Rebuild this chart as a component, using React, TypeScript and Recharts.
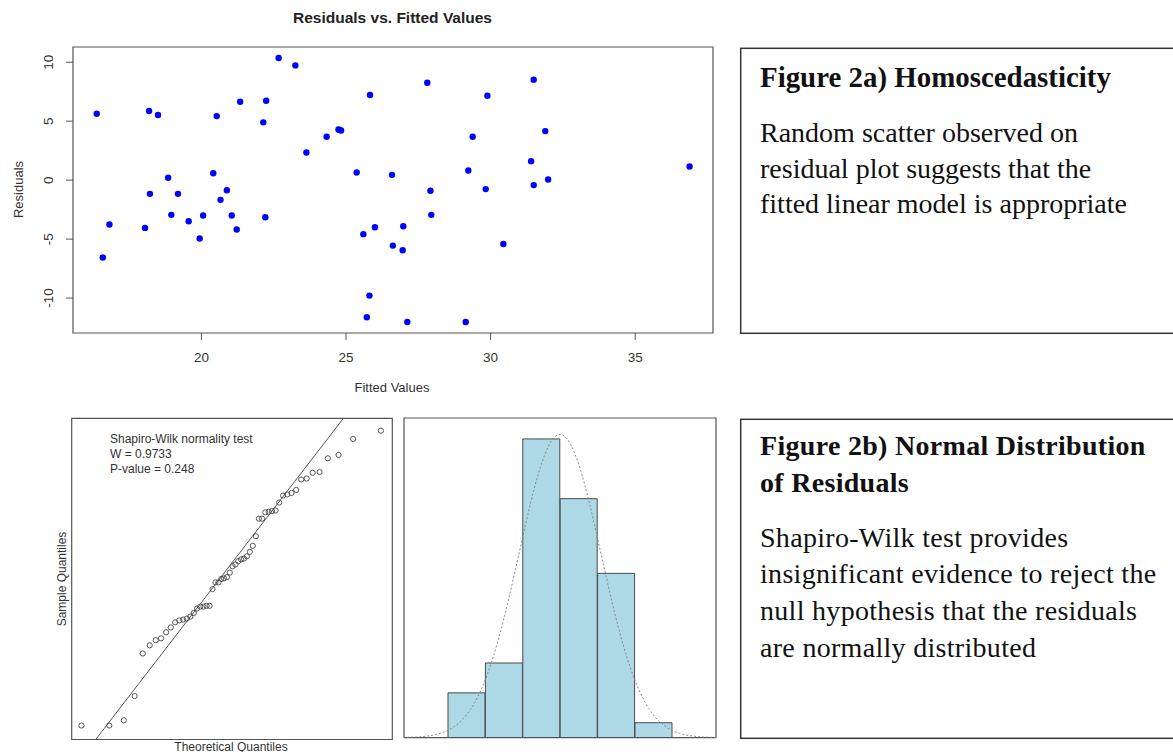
import React from 'react';
import {
  ScatterChart,
  Scatter,
  XAxis,
  YAxis,
  ReferenceArea,
  ReferenceLine,
  BarChart,
  Bar,
  LineChart,
  Line,
} from 'recharts';

// residuals vs fitted values
const fitted = [
  16.38, 16.59, 16.82, 18.05, 18.19, 18.22, 18.5, 18.85, 18.96, 19.19, 19.56, 19.94, 20.06, 20.41,
  20.53, 20.66, 20.88, 21.05, 21.22, 21.34, 22.14, 22.21, 22.24, 22.67, 23.25, 23.63, 24.33, 24.74,
  24.83, 25.37, 25.6, 25.72, 25.81, 25.83, 26.0, 26.59, 26.62, 26.98, 26.96, 27.12, 27.81, 27.92,
  27.95, 29.14, 29.23, 29.38, 29.83, 29.89, 30.44, 31.4, 31.49, 31.49, 31.89, 31.99, 36.88, 24.78,
];
const residuals = [
  5.63, -6.56, -3.76, -4.05, 5.86, -1.16, 5.52, 0.2, -2.94, -1.16, -3.48, -4.95, -3.0, 0.59,
  5.43, -1.67, -0.85, -3.0, -4.19, 6.65, 4.9, -3.14, 6.73, 10.36, 9.73, 2.35, 3.68, 4.3,
  4.21, 0.65, -4.58, -11.63, -9.79, 7.22, -3.99, 0.45, -5.55, -3.91, -5.94, -12.03, 8.26, -0.9,
  -2.94, -12.03, 0.82, 3.68, -0.76, 7.16, -5.41, 1.61, 8.52, -0.42, 4.16, 0.06, 1.16, 4.25,
];
const fittedTicks = [20, 25, 30, 35];
const residualTicks = [-10, -5, 0, 5, 10];

// normal Q-Q plot
const qqTheoretical = [
  -2.37, -1.93, -1.7, -1.53, -1.4, -1.29, -1.195, -1.11, -1.03, -0.956, -0.887, -0.822, -0.761, -0.703,
  -0.647, -0.592, -0.54, -0.489, -0.439, -0.39, -0.342, -0.295, -0.248, -0.202, -0.157, -0.112, -0.067, -0.022,
  0.022, 0.067, 0.112, 0.157, 0.202, 0.248, 0.295, 0.342, 0.39, 0.439, 0.489, 0.54, 0.592, 0.647,
  0.703, 0.761, 0.822, 0.887, 0.956, 1.03, 1.11, 1.195, 1.29, 1.4, 1.53, 1.7, 1.93, 2.37,
];
const qqSample = [
  -12.03, -12.03, -11.63, -9.79, -6.56, -5.94, -5.55, -5.41, -4.95, -4.58, -4.19, -4.05, -3.99, -3.91,
  -3.76, -3.48, -3.14, -3.0, -3.0, -2.94, -2.94, -1.67, -1.16, -1.16, -0.9, -0.85, -0.76, -0.42,
  0.06, 0.2, 0.45, 0.59, 0.65, 0.82, 1.16, 1.61, 2.35, 3.68, 3.68, 4.16, 4.21, 4.25, 4.3, 4.9,
  5.43, 5.52, 5.63, 5.86, 6.65, 6.73, 7.16, 7.22, 8.26, 8.52, 9.73, 10.36,
];
const qqLine = [
  { x: -2.145, y: -13.09 },
  { x: 1.777, y: 11.3 },
];

// histogram of residuals with normal curve
const histBins = ['-15', '-10', '-5', '0', '5', '10'];
const histCounts = [3, 5, 20, 16, 11, 1];
const curveX = [
  -21, -20, -19, -18, -17, -16, -15, -14, -13, -12, -11, -10, -9, -8, -7, -6, -5, -4, -3, -2, -1,
  0, 1, 2, 3, 4, 5, 6, 7, 8, 9, 10, 11, 12, 13, 14, 15, 16, 17, 18, 19, 20, 21,
];
const curveY = [
  0.01, 0.03, 0.05, 0.1, 0.17, 0.3, 0.49, 0.8, 1.24, 1.88, 2.75, 3.89, 5.32, 7.05, 9.03, 11.2, 13.4, 15.6, 17.5, 19.0, 19.97,
  20.3, 19.97, 19.0, 17.5, 15.6, 13.4, 11.2, 9.03, 7.05, 5.32, 3.89, 2.75, 1.88, 1.24, 0.8, 0.49, 0.3, 0.17, 0.1, 0.05, 0.03, 0.01,
];

const residualData = fitted.map((x, i) => ({ x, y: residuals[i] }));
const qqData = qqTheoretical.map((x, i) => ({ x, y: qqSample[i] }));
const histData = histBins.map((bin, i) => ({ bin, count: histCounts[i] }));
const curveData = curveX.map((x, i) => ({ x, y: curveY[i] }));

const SANS = 'Liberation Sans, Arial, sans-serif';
const SERIF = 'Liberation Serif, Times New Roman, serif';
const BOX = '#555';

const XTick = (props: any) => {
  const { x, y, payload } = props;
  return (
    <text x={x} y={y + 19.5} textAnchor="middle" fontFamily={SANS} fontSize={13.5} fill="#333">
      {String(payload.value)}
    </text>
  );
};

const YTick = (props: any) => {
  const { x, y, payload } = props;
  const bx = x - 10.5;
  return (
    <text
      x={bx}
      y={y}
      transform={`rotate(-90 ${bx} ${y})`}
      textAnchor="middle"
      fontFamily={SANS}
      fontSize={13.5}
      fill="#333"
    >
      {String(payload.value)}
    </text>
  );
};

const blueDot = (p: any) => <circle cx={p.cx} cy={p.cy} r={3.2} fill="#0000ff" />;
const openDot = (p: any) => (
  <circle cx={p.cx} cy={p.cy} r={2.6} fill="none" stroke="#444" strokeWidth={0.9} />
);

const pos = (left: number, top: number): React.CSSProperties => ({
  position: 'absolute',
  left,
  top,
});

export default function App() {
  return (
    <div
      style={{
        position: 'absolute',
        left: 0,
        top: 0,
        width: 1173,
        height: 752,
        overflow: 'hidden',
        background: '#fff',
      }}
    >
      {/* residuals vs fitted */}
      <div style={pos(0, 0)}>
        <ScatterChart width={730} height={400} margin={{ top: 47, right: 17, bottom: 37, left: 33 }}>
          <XAxis
            type="number"
            dataKey="x"
            domain={[15.56, 37.69]}
            ticks={fittedTicks}
            axisLine={false}
            tickSize={7}
            tickLine={{ stroke: BOX }}
            tick={XTick}
            height={30}
            allowDataOverflow
          />
          <YAxis
            type="number"
            dataKey="y"
            domain={[-12.96, 11.29]}
            ticks={residualTicks}
            axisLine={false}
            tickSize={7}
            tickLine={{ stroke: BOX }}
            tick={YTick}
            width={40}
            allowDataOverflow
          />
          <ReferenceArea x1={15.56} x2={37.69} y1={-12.96} y2={11.29} fill="none" stroke={BOX} strokeWidth={1.2} />
          <Scatter data={residualData} shape={blueDot} isAnimationActive={false} />
        </ScatterChart>
      </div>

      {/* normal Q-Q */}
      <div style={pos(40, 410)}>
        <ScatterChart width={360} height={342} margin={{ top: 8.3, right: 7.7, bottom: 12.5, left: 31.7 }}>
          <XAxis type="number" dataKey="x" domain={[-2.525, 2.551]} hide height={0} allowDataOverflow />
          <YAxis type="number" dataKey="y" domain={[-13.09, 11.3]} hide width={0} allowDataOverflow />
          <ReferenceArea x1={-2.525} x2={2.551} y1={-13.09} y2={11.3} fill="none" stroke={BOX} strokeWidth={1.2} />
          <ReferenceLine segment={qqLine} stroke="#555" strokeWidth={1} />
          <Scatter data={qqData} shape={openDot} isAnimationActive={false} />
        </ScatterChart>
      </div>

      {/* histogram bars */}
      <div style={pos(446.3, 416)}>
        <BarChart
          width={228.4}
          height={323.7}
          data={histData}
          margin={{ top: 2, right: 2, bottom: 2, left: 2 }}
          barCategoryGap={0}
          barGap={0}
        >
          <XAxis dataKey="bin" hide height={0} />
          <YAxis domain={[0, 21.4]} hide width={0} allowDataOverflow />
          <Bar dataKey="count" fill="#add8e6" stroke="#4a4a4a" strokeWidth={1} isAnimationActive={false} />
        </BarChart>
      </div>

      {/* normal curve + box */}
      <div style={pos(402, 416)}>
        <LineChart width={316} height={323.7} data={curveData} margin={{ top: 2, right: 2, bottom: 2, left: 2 }}>
          <XAxis type="number" dataKey="x" domain={[-20.9, 20.9]} hide height={0} allowDataOverflow />
          <YAxis domain={[0, 21.4]} hide width={0} allowDataOverflow />
          <ReferenceArea x1={-20.9} x2={20.9} y1={0} y2={21.4} fill="none" stroke={BOX} strokeWidth={1.2} />
          <Line
            type="monotone"
            dataKey="y"
            stroke="#8a8a8a"
            strokeWidth={1}
            strokeDasharray="2 2"
            dot={false}
            isAnimationActive={false}
          />
        </LineChart>
      </div>

      {/* titles, labels and text boxes */}
      <svg width={1173} height={752} style={{ position: 'absolute', left: 0, top: 0, pointerEvents: 'none' }}>
        <g fontFamily={SANS} fill="#222">
          <text x={392.5} y={23} textAnchor="middle" fontSize={15.5} fontWeight="bold">
            Residuals vs. Fitted Values
          </text>
          <text x={392} y={392} textAnchor="middle" fontSize={13} fill="#333">
            Fitted Values
          </text>
          <text x={23} y={189.5} textAnchor="middle" fontSize={13} fill="#333" transform="rotate(-90 23 189.5)">
            Residuals
          </text>
          <text x={110} y={443} fontSize={12} fill="#333">Shapiro-Wilk normality test</text>
          <text x={110} y={458} fontSize={12} fill="#333">W = 0.9733</text>
          <text x={110} y={473} fontSize={12} fill="#333">P-value = 0.248</text>
          <text x={66} y={579} textAnchor="middle" fontSize={12} fill="#333" transform="rotate(-90 66 579)">
            Sample Quantiles
          </text>
          <text x={231} y={750.5} textAnchor="middle" fontSize={12} fill="#333">
            Theoretical Quantiles
          </text>
        </g>

        <rect x={740.7} y={48.3} width={500} height={285} fill="none" stroke="#333" strokeWidth={1.5} />
        <g fontFamily={SERIF} fontSize={28} fill="#111">
          <text x={760} y={86.7} fontWeight="bold" fontSize={28.9}>Figure 2a) Homoscedasticity</text>
          <text x={760} y={141.7}>Random scatter observed on</text>
          <text x={760} y={177.5}>residual plot suggests that the</text>
          <text x={760} y={213.3}>fitted linear model is appropriate</text>
        </g>

        <rect x={740.7} y={419.3} width={500} height={319} fill="none" stroke="#333" strokeWidth={1.5} />
        <g fontFamily={SERIF} fontSize={28} fill="#111" letterSpacing={0.3}>
          <text x={760} y={455} fontWeight="bold">Figure 2b) Normal Distribution</text>
          <text x={760} y={491.7} fontWeight="bold">of Residuals</text>
          <text x={760} y={546.7}>Shapiro-Wilk test provides</text>
          <text x={760} y={583.3}>insignificant evidence to reject the</text>
          <text x={760} y={620.3}>null hypothesis that the residuals</text>
          <text x={760} y={656.7}>are normally distributed</text>
        </g>
      </svg>
    </div>
  );
}
